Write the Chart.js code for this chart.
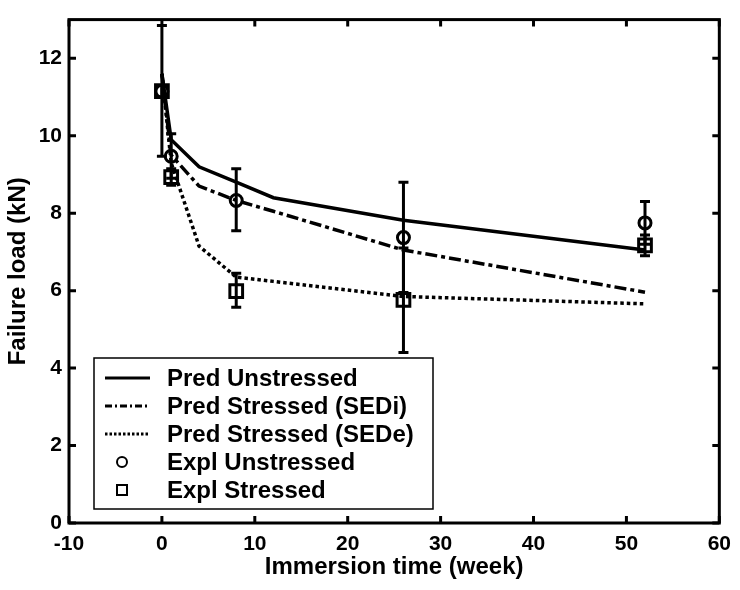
<!DOCTYPE html>
<html>
<head>
<meta charset="utf-8">
<script src="https://cdn.jsdelivr.net/npm/chart.js@4.4.0/dist/chart.umd.min.js"></script>
<style>
body { margin: 0; background: #fff; }
</style>
</head>
<body>
<canvas id="myChart" width="740" height="590"></canvas>
<script>
// Predicted curves (week -> kN)
const predWeeks = [0, 1, 4, 8, 12, 26, 52];
const predUnstressed = [11.6, 9.9, 9.2, 8.8, 8.4, 7.82, 7.05];
const predSEDi = [11.6, 9.5, 8.7, 8.33, 8.05, 7.05, 5.96];
const predSEDe = [11.6, 9.3, 7.15, 6.35, 6.24, 5.85, 5.66];

// Experimental points with error bars
const explWeeks = [0, 1, 8, 26, 52];
const explUnstressed = [11.15, 9.47, 8.33, 7.37, 7.75];
const explUnstressedLo = [9.47, 8.9, 7.55, 5.95, 7.2];
const explUnstressedHi = [12.85, 10.05, 9.15, 8.8, 8.3];
const explStressed = [11.15, 8.93, 5.99, 5.76, 7.17];
const explStressedLo = [11.0, 8.72, 5.57, 4.4, 6.9];
const explStressedHi = [11.3, 9.15, 6.45, 7.1, 7.44];

// Axes
const xTicks = [-10, 0, 10, 20, 30, 40, 50, 60];
const yTicks = [0, 2, 4, 6, 8, 10, 12];

const FONT = '"Liberation Sans", Arial, sans-serif';

function toXY(xs, ys) {
    return xs.map((x, i) => ({ x: x, y: ys[i] }));
}

// Error bars drawn over the markers
const errorBars = {
    id: 'errorBars',
    afterDatasetsDraw(chart) {
        const ctx = chart.ctx;
        const xs = chart.scales.x, ys = chart.scales.y;
        ctx.save();
        ctx.strokeStyle = '#000';
        ctx.lineWidth = 3;
        chart.data.datasets.forEach(ds => {
            if (!ds.errLo) return;
            ds.data.forEach((p, i) => {
                const px = xs.getPixelForValue(p.x);
                const lo = ys.getPixelForValue(ds.errLo[i]);
                const hi = ys.getPixelForValue(ds.errHi[i]);
                ctx.beginPath();
                ctx.moveTo(px, lo); ctx.lineTo(px, hi);
                ctx.moveTo(px - 5, lo); ctx.lineTo(px + 5, lo);
                ctx.moveTo(px - 5, hi); ctx.lineTo(px + 5, hi);
                ctx.stroke();
            });
        });
        ctx.restore();
    }
};

// Box frame with inward ticks on all sides
const frame = {
    id: 'frame',
    afterDraw(chart) {
        const ctx = chart.ctx;
        const a = chart.chartArea;
        const xs = chart.scales.x, ys = chart.scales.y;
        ctx.save();
        ctx.strokeStyle = '#000';
        ctx.lineWidth = 3;
        ctx.strokeRect(a.left, a.top, a.right - a.left, a.bottom - a.top);
        ctx.beginPath();
        xTicks.forEach(v => {
            const px = xs.getPixelForValue(v);
            ctx.moveTo(px, a.bottom); ctx.lineTo(px, a.bottom - 7);
            ctx.moveTo(px, a.top); ctx.lineTo(px, a.top + 7);
        });
        yTicks.forEach(v => {
            const py = ys.getPixelForValue(v);
            ctx.moveTo(a.left, py); ctx.lineTo(a.left + 7, py);
            ctx.moveTo(a.right, py); ctx.lineTo(a.right - 7, py);
        });
        ctx.stroke();
        ctx.restore();
    }
};

// Legend box inside the lower left of the plot
const boxLegend = {
    id: 'boxLegend',
    afterDraw(chart) {
        const ctx = chart.ctx;
        const a = chart.chartArea;
        const left = a.left + 25, width = 339, height = 151;
        const top = a.bottom - 14 - height;
        ctx.save();
        ctx.fillStyle = '#fff';
        ctx.fillRect(left, top, width, height);
        ctx.strokeStyle = '#000';
        ctx.lineWidth = 1.5;
        ctx.strokeRect(left, top, width, height);

        chart.data.datasets.forEach((ds, i) => {
            const y = top + 20 + i * 28;
            ctx.strokeStyle = '#000';
            ctx.lineWidth = 3;
            if (ds.showLine) {
                ctx.setLineDash(ds.legendDash);
                ctx.beginPath();
                ctx.moveTo(left + 11, y);
                ctx.lineTo(left + 56, y);
                ctx.stroke();
                ctx.setLineDash([]);
            } else {
                ctx.lineWidth = 2;
                ctx.beginPath();
                if (ds.pointStyle === 'circle') {
                    ctx.arc(left + 28, y, 5, 0, Math.PI * 2);
                } else {
                    ctx.rect(left + 23, y - 5, 10, 10);
                }
                ctx.stroke();
            }
            ctx.fillStyle = '#000';
            ctx.font = 'bold 24px ' + FONT;
            ctx.textBaseline = 'middle';
            ctx.fillText(ds.label, left + 73, y + 1);
        });
        ctx.restore();
    }
};

const ctx = document.getElementById('myChart').getContext('2d');
new Chart(ctx, {
    type: 'scatter',
    data: {
        datasets: [
            {
                label: 'Pred Unstressed',
                data: toXY(predWeeks, predUnstressed),
                showLine: true, borderColor: '#000', borderWidth: 3.5,
                pointRadius: 0, borderDash: [], legendDash: []
            },
            {
                label: 'Pred Stressed (SEDi)',
                data: toXY(predWeeks, predSEDi),
                showLine: true, borderColor: '#000', borderWidth: 3.5,
                pointRadius: 0, borderDash: [12, 4, 4, 4], legendDash: [7, 3, 2, 3]
            },
            {
                label: 'Pred Stressed (SEDe)',
                data: toXY(predWeeks, predSEDe),
                showLine: true, borderColor: '#000', borderWidth: 3.5,
                pointRadius: 0, borderDash: [3.5, 3], legendDash: [2.5, 2]
            },
            {
                label: 'Expl Unstressed',
                data: toXY(explWeeks, explUnstressed),
                errLo: explUnstressedLo, errHi: explUnstressedHi,
                showLine: false, pointStyle: 'circle', pointRadius: 6,
                pointBorderWidth: 3, pointBorderColor: '#000',
                pointBackgroundColor: 'rgba(0,0,0,0)'
            },
            {
                label: 'Expl Stressed',
                data: toXY(explWeeks, explStressed),
                errLo: explStressedLo, errHi: explStressedHi,
                showLine: false, pointStyle: 'rect', pointRadius: 9,
                pointBorderWidth: 3, pointBorderColor: '#000',
                pointBackgroundColor: 'rgba(0,0,0,0)'
            }
        ]
    },
    options: {
        responsive: false,
        animation: false,
        layout: { padding: { top: 5, right: 17, left: 0, bottom: 0 } },
        plugins: {
            legend: { display: false },
            tooltip: { enabled: false }
        },
        scales: {
            x: {
                type: 'linear', min: -10, max: 60,
                afterBuildTicks: s => { s.ticks = xTicks.map(v => ({ value: v })); },
                afterFit: s => { s.height = 67; },
                grid: { display: false, drawTicks: false },
                border: { display: false },
                ticks: { color: '#000', padding: 9, font: { family: FONT, size: 21, weight: 'bold' } },
                title: {
                    display: true, text: 'Immersion time (week)', color: '#000',
                    padding: { top: 0, bottom: 8 },
                    font: { family: FONT, size: 24, weight: 'bold' }
                }
            },
            y: {
                type: 'linear', min: 0, max: 13,
                afterBuildTicks: s => { s.ticks = yTicks.map(v => ({ value: v })); },
                afterFit: s => { s.width = 69; },
                grid: { display: false, drawTicks: false },
                border: { display: false },
                ticks: { color: '#000', padding: 7, font: { family: FONT, size: 21, weight: 'bold' } },
                title: {
                    display: true, text: 'Failure load (kN)', color: '#000',
                    padding: { top: 4, bottom: 0 },
                    font: { family: FONT, size: 24, weight: 'bold' }
                }
            }
        }
    },
    plugins: [errorBars, frame, boxLegend]
});
</script>
</body>
</html>
